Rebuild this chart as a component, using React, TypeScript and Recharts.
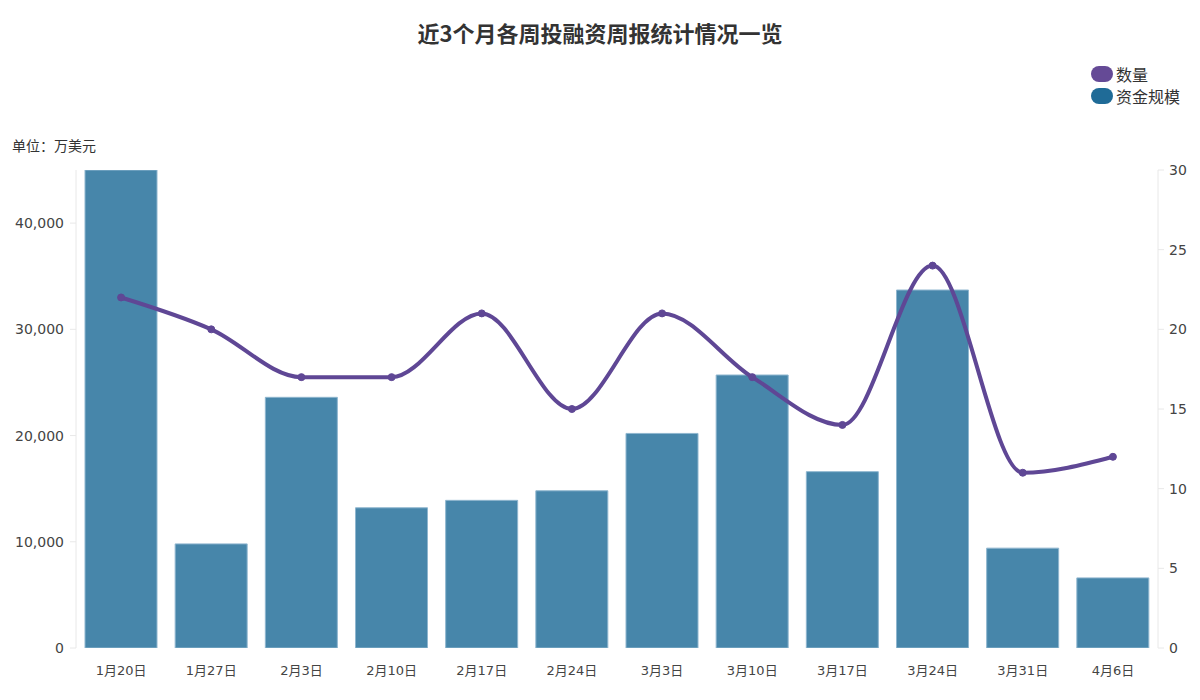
import { ComposedChart, Bar, Line, XAxis, YAxis } from "recharts";

const weeks = ["1月20日", "1月27日", "2月3日", "2月10日", "2月17日", "2月24日", "3月3日", "3月10日", "3月17日", "3月24日", "3月31日", "4月6日"];
const funding = [45000, 9800, 23600, 13200, 13900, 14800, 20200, 25700, 16600, 33700, 9400, 6600];
const counts = [22, 20, 17, 17, 21, 15, 21, 17, 14, 24, 11, 12];
const leftTicks = [0, 10000, 20000, 30000, 40000];
const rightTicks = [0, 5, 10, 15, 20, 25, 30];

const data = weeks.map((week, i) => ({ week, funding: funding[i], count: counts[i] }));

const FONT = "'DejaVu Sans', 'Noto Sans CJK SC', sans-serif";
const TITLE_FONT = "'Noto Sans CJK SC', sans-serif";
const tickStyle = { fontSize: 14, fill: "#444", fontFamily: FONT };

const legendItems = [
  { label: "数量", color: "#654a96" },
  { label: "资金规模", color: "#1f6b97" },
];

const App = () => (
  <div style={{ position: "absolute", left: 0, top: 0, width: 1200, height: 700, background: "#fff", fontFamily: TITLE_FONT }}>
    <div style={{ position: "absolute", top: 16, width: 1200, textAlign: "center", fontSize: 22, fontWeight: 700, color: "#333" }}>
      近3个月各周投融资周报统计情况一览
    </div>
    <div style={{ position: "absolute", left: 1091, top: 63, fontSize: 16, color: "#333" }}>
      {legendItems.map((it) => (
        <div key={it.label} style={{ display: "flex", alignItems: "center", height: 22 }}>
          <span style={{ width: 22, height: 16, borderRadius: 8, background: it.color, marginRight: 3 }} />
          <span>{it.label}</span>
        </div>
      ))}
    </div>
    <div style={{ position: "absolute", left: 12, top: 135, fontSize: 14, color: "#333" }}>单位：万美元</div>
    <ComposedChart width={1200} height={700} data={data} margin={{ top: 170, right: 0, bottom: 22, left: 0 }}>
      <XAxis
        dataKey="week"
        axisLine={false}
        tickLine={false}
        tick={{ ...tickStyle, fontSize: 13 }}
        tickMargin={12}
        height={30}
      />
      <YAxis
        yAxisId="left"
        domain={[0, 45000]}
        ticks={leftTicks}
        width={76}
        axisLine={{ stroke: "#e8e8e8" }}
        tickLine={{ stroke: "#e8e8e8" }}
        tickMargin={6}
        tick={tickStyle}
        tickFormatter={(v) => v.toLocaleString("en-US")}
        allowDataOverflow
      />
      <YAxis
        yAxisId="right"
        orientation="right"
        domain={[0, 30]}
        ticks={rightTicks}
        width={42}
        axisLine={{ stroke: "#e8e8e8" }}
        tickLine={{ stroke: "#e8e8e8" }}
        tickMargin={5}
        tick={tickStyle}
      />
      <Bar yAxisId="left" dataKey="funding" name="资金规模" fill="#4786aa" stroke="#8fb6cf" strokeWidth={1} barSize={72} isAnimationActive={false} />
      <Line
        yAxisId="right"
        type="monotone"
        dataKey="count"
        name="数量"
        stroke="#5f4795"
        strokeWidth={4}
        dot={{ r: 3.5, fill: "#5f4795", stroke: "#5f4795", strokeWidth: 1 }}
        isAnimationActive={false}
      />
    </ComposedChart>
  </div>
);

export default App;
